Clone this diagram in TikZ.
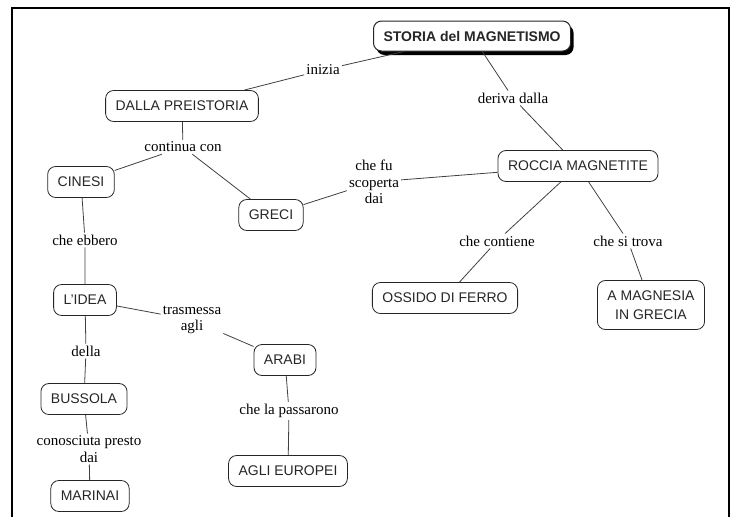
\documentclass[tikz,border=0pt]{standalone}
\usepackage{fontspec}
\setmainfont{Liberation Serif}
\setsansfont{Liberation Sans}
\usepackage{tikz}
\usetikzlibrary{shadows}
\tikzstyle{concept}=[
	rectangle,
	rounded corners=8pt,
	draw=black!85,
	line width=0.8pt,
	fill=white,
	text=black!85,
	font=\sffamily\fontsize{14}{16.5}\selectfont,
	inner xsep=10pt,
	minimum height=31pt,
	align=center
]
\tikzstyle{phrase}=[
	inner sep=2pt,
	font=\fontsize{15}{16.5}\selectfont,
	align=center
]
\tikzstyle{link}=[
	line width=0.8pt,
	draw=black!75
]

\begin{document}
\begin{tikzpicture}[x=1pt,y=-1pt]
\useasboundingbox (0,0) rectangle (734,517);
\draw[line width=1.6pt] (12,517) -- (12,8) -- (729,8) -- (729,517);

\node [concept, anchor=west, font=\sffamily\bfseries\fontsize{14}{16.5}\selectfont,
	line width=1pt, minimum height=30pt,
	drop shadow={shadow xshift=3pt, shadow yshift=-4pt, fill=black, opacity=1}]
	(Storia) at (373,36) {STORIA del MAGNETISMO};
\node [concept] (Preistoria) at (182,106) {DALLA PREISTORIA};
\node [concept] (Roccia) at (578,166) {ROCCIA MAGNETITE};
\node [concept] (Cinesi) at (81,182) {CINESI};
\node [concept] (Greci) at (271,215) {GRECI};
\node [concept] (Idea) at (85,300) {L'IDEA};
\node [concept] (Arabi) at (285,360) {ARABI};
\node [concept] (Bussola) at (84,399) {BUSSOLA};
\node [concept] (Marinai) at (90,496) {MARINAI};
\node [concept] (Europei) at (288,471) {AGLI EUROPEI};
\node [concept] (Ossido) at (445,298) {OSSIDO DI FERRO};
\node [concept, minimum height=49pt, font=\sffamily\fontsize{14}{19}\selectfont]
	(Magnesia) at (651,305) {A MAGNESIA\\IN GRECIA};

\node [phrase] (Inizia) at (323,70) {inizia};
\node [phrase] (Deriva) at (513,98) {deriva dalla};
\node [phrase] (Continua) at (183,147) {continua con};
\node [phrase] (Scoperta) at (374,182) {che fu\\scoperta\\dai};
\node [phrase] (Ebbero) at (85,240) {che ebbero};
\node [phrase] (Trasmessa) at (192,320) {trasmessa\\agli};
\node [phrase] (Della) at (86,351) {della};
\node [phrase] (Conosciuta) at (89,449) {conosciuta presto\\dai};
\node [phrase] (Passarono) at (289,411) {che la passarono};
\node [phrase] (Contiene) at (497,241) {che contiene};
\node [phrase] (Trova) at (628,241) {che si trova};

\draw [link] (Storia) -- (Inizia) -- (Preistoria);
\draw [link] (Storia) -- (Deriva) -- (Roccia);
\draw [link] (Preistoria) -- (Continua);
\draw [link] (Continua) -- (Cinesi);
\draw [link] (Continua) -- (Greci);
\draw [link] (Roccia) -- (Scoperta) -- (Greci);
\draw [link] (Roccia) -- (Contiene) -- (Ossido);
\draw [link] (Roccia) -- (Trova) -- (Magnesia);
\draw [link] (Cinesi) -- (Ebbero) -- (Idea);
\draw [link] (Idea) -- (Trasmessa) -- (Arabi);
\draw [link] (Idea) -- (Della) -- (Bussola);
\draw [link] (Bussola) -- (Conosciuta) -- (Marinai);
\draw [link] (Arabi) -- (Passarono) -- (Europei);
\end{tikzpicture}
\end{document}
